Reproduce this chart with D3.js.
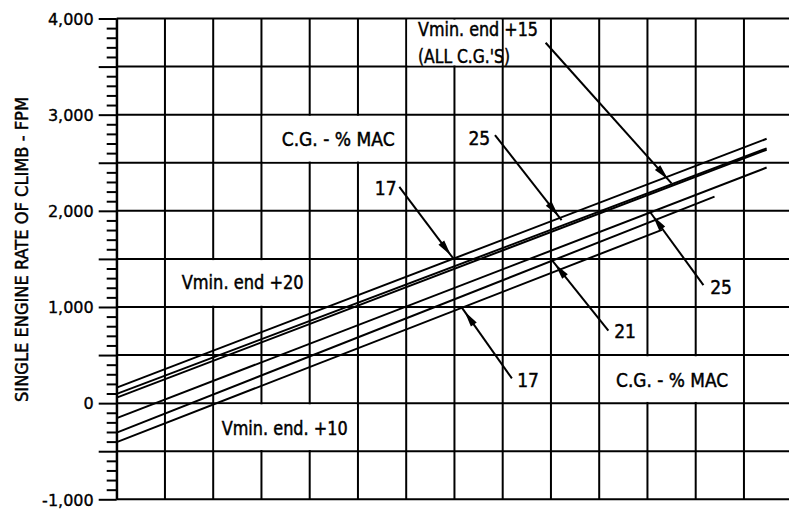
<!DOCTYPE html>
<html><head><meta charset="utf-8">
<script src="https://cdn.jsdelivr.net/npm/d3@7/dist/d3.min.js"></script>
<style>
html,body{margin:0;padding:0;background:#fff;}
svg{display:block;}
.lbl{font-family:"DejaVu Sans Condensed","DejaVu Sans",sans-serif;font-stretch:condensed;font-size:19px;fill:#000;stroke:#000;stroke-width:0.45px;}
.tk text{font-family:"DejaVu Sans",sans-serif;font-size:16px;fill:#000;stroke:#000;stroke-width:0.35px;}
</style></head><body>
<svg id="c" width="789" height="511"></svg>
<script>
// ---------- data ----------
const yMajorTicks = [-1000,-500,0,500,1000,1500,2000,2500,3000,3500,4000];
const yLabelTicks = [-1000,0,1000,2000,3000,4000];
const yTickLabels = ["-1,000","0","1,000","2,000","3,000","4,000"];
const yMinorTicks = [-900,-800,-700,-600,-400,-300,-200,-100,100,200,300,400,600,700,800,900,
  1100,1200,1300,1400,1600,1700,1800,1900,2100,2200,2300,2400,2600,2700,2800,2900,
  3100,3200,3300,3400,3600,3700,3800,3900];
const xGrid = [0,1,2,3,4,5,6,7,8,9,10,11,12,13,14];
const yTitle = "SINGLE ENGINE RATE OF CLIMB - FPM";

// lines: start/end positions (grid units) and rate of climb (fpm)
const lineNames = ["Vmin end +20 (top)","Vmin end +15","Vmin end +20 (low)","Vmin end +10, 25%","Vmin end +10, 21%","Vmin end +10, 17%"];
const lineX0 = [0,0,0,0,0,0];
const lineX1 = [13.47,13.47,13.47,13.47,12.39,11.3];
const lineY0 = [162,97,58,-156,-306,-406];
const lineY1 = [2749,2650,2635,2450,2148,1802];

// label boxes (blank cells): u0,u1,v0,v1
const boxU0 = [6,3,1,2,10];
const boxU1 = [8,6,4,5,13];
const boxV0 = [3500,2500,1000,-500,0];
const boxV1 = [4000,3000,1500,0,500];

// text labels
const labelText = ["Vmin. end +15","(ALL C.G.'S)","C.G. - % MAC","Vmin. end +20","Vmin. end. +10","C.G. - % MAC","17","25","17","21","25"];
const labelU = [6.245,6.245,3.42,1.347,2.176,10.35,5.35,7.29,8.30,10.31,12.30];
const labelV = [3818,3537,2679,1183,-332,164,2164,2684,164,680,1131];
const labelW = [120,92,113,122,126,112,0,0,0,0,0];

// arrows: start (u,v) -> end (u,v)
const arrowU0 = [5.857,7.84,8.89,8.19,10.19,12.16];
const arrowV0 = [2250,2788,3748,258,753,1228];
const arrowU1 = [6.99,9.22,11.50,7.15,9.02,11.05];
const arrowV1 = [1495,1904,2286,996,1488,1990];

// ---------- drawing ----------
const svg = d3.select("#c");
const x = d3.scaleLinear().domain([0,14]).range([116.7,792.2]);
const y = d3.scaleLinear().domain([-1000,4000]).range([499.3,18.5]);

// vertical grid
svg.append("g").selectAll("line").data(xGrid).join("line")
  .attr("x1",d=>x(d)).attr("x2",d=>x(d)).attr("y1",y(4000)).attr("y2",y(-1000))
  .attr("stroke","#000").attr("stroke-width",2);
// horizontal grid
svg.append("g").selectAll("line").data(yMajorTicks).join("line")
  .attr("x1",x(0)).attr("x2",x(14)).attr("y1",d=>y(d)).attr("y2",d=>y(d))
  .attr("stroke","#000").attr("stroke-width",2);

// axis: major ticks with labels
const axMaj = d3.axisLeft(y).tickValues(yMajorTicks).tickSize(18).tickSizeOuter(0).tickPadding(5)
  .tickFormat(d=>{const i=yLabelTicks.indexOf(d);return i>=0?yTickLabels[i]:"";});
const gMaj = svg.append("g").attr("class","tk").attr("transform",`translate(${x(0)},0)`).call(axMaj);
gMaj.selectAll("line").attr("stroke","#000").attr("stroke-width",2);
gMaj.select(".domain").attr("stroke","#000").attr("stroke-width",2);
gMaj.selectAll("text").attr("dy","0.36em");
const axMin = d3.axisLeft(y).tickValues(yMinorTicks).tickSize(10).tickSizeOuter(0).tickFormat("");
const gMin = svg.append("g").attr("transform",`translate(${x(0)},0)`).call(axMin);
gMin.selectAll("line").attr("stroke","#000").attr("stroke-width",2);
gMin.select(".domain").remove();

// blank label boxes
svg.append("g").selectAll("rect").data(boxU0).join("rect")
  .attr("x",(d,i)=>x(boxU0[i])+1.2).attr("width",(d,i)=>x(boxU1[i])-x(boxU0[i])-2.4)
  .attr("y",(d,i)=>y(boxV1[i])+1.2).attr("height",(d,i)=>y(boxV0[i])-y(boxV1[i])-2.4)
  .attr("fill","#fff");

// data lines
svg.append("g").selectAll("line").data(lineNames).join("line")
  .attr("x1",(d,i)=>x(lineX0[i])).attr("y1",(d,i)=>y(lineY0[i]))
  .attr("x2",(d,i)=>x(lineX1[i])).attr("y2",(d,i)=>y(lineY1[i]))
  .attr("stroke","#000").attr("stroke-width",2);

// arrows
const ga = svg.append("g");
arrowU0.forEach((u,i)=>{
  const sx=x(u), sy=y(arrowV0[i]), ex=x(arrowU1[i]), ey=y(arrowV1[i]);
  ga.append("line").attr("x1",sx).attr("y1",sy).attr("x2",ex).attr("y2",ey)
    .attr("stroke","#000").attr("stroke-width",2);
  const L=Math.hypot(ex-sx,ey-sy), ux=(ex-sx)/L, uy=(ey-sy)/L;
  const tx=ex-ux*5, ty=ey-uy*5, bx=tx-ux*16, by=ty-uy*16;
  const px=-uy*3.6, py=ux*3.6;
  ga.append("path").attr("d",`M${tx},${ty}L${bx+px},${by+py}L${bx-px},${by-py}Z`).attr("fill","#000");
});

// labels
svg.append("g").selectAll("text").data(labelText).join("text")
  .attr("class","lbl").attr("x",(d,i)=>x(labelU[i])).attr("y",(d,i)=>y(labelV[i]))
  .each(function(d,i){ if(labelW[i]>0) d3.select(this).attr("textLength",labelW[i]).attr("lengthAdjust","spacingAndGlyphs"); })
  .text(d=>d);

// y title
svg.append("text").attr("class","lbl").attr("transform","translate(28,249.5) rotate(-90)")
  .attr("text-anchor","middle").style("font-size","18px").attr("textLength",305).attr("lengthAdjust","spacingAndGlyphs")
  .text(yTitle);
</script></body></html>
